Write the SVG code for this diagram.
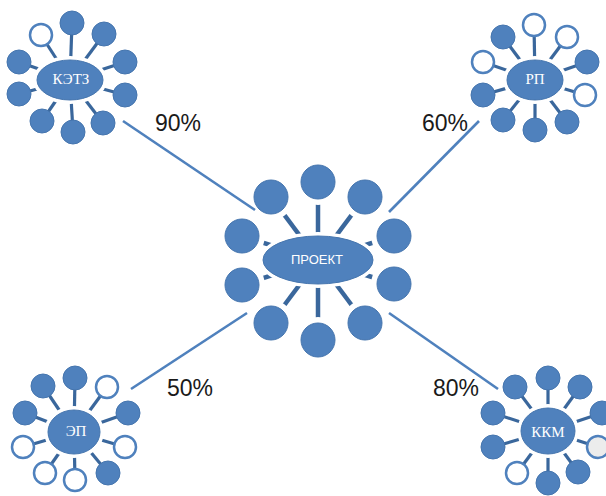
<svg xmlns="http://www.w3.org/2000/svg" width="606" height="496" viewBox="0 0 606 496">
<style>
.f{fill:#4f81bd;stroke:#4575ae;stroke-width:1}
.o{fill:#fff;stroke:#4f81bd;stroke-width:2.5}
.g{fill:#ececec;stroke:#4f81bd;stroke-width:2.5}
.h{fill:#fff}
.sp{stroke:#3a679c;stroke-width:3.2}
.spc{stroke:#3a679c;stroke-width:4.5}
.conn{stroke:#4f81bd;stroke-width:2.6;fill:none}
.lbl{font-family:"Liberation Serif",serif;font-size:15px;fill:#fff;text-anchor:middle}
.lblc{font-family:"Liberation Sans",sans-serif;font-size:13px;fill:#fff;text-anchor:middle}
.pct{font-family:"Liberation Sans",sans-serif;font-size:23px;fill:#1a1a1a}
</style>
<rect width="606" height="496" fill="#fff"/>

<g id="node-ketz">
<g class="sp">
<line x1="70" y1="80" x2="72" y2="23"/><line x1="70" y1="80" x2="41" y2="35"/><line x1="70" y1="80" x2="104" y2="34"/>
<line x1="70" y1="80" x2="125" y2="62"/><line x1="70" y1="80" x2="125" y2="95"/><line x1="70" y1="80" x2="103" y2="123"/>
<line x1="70" y1="80" x2="73" y2="132"/><line x1="70" y1="80" x2="42" y2="121"/><line x1="70" y1="80" x2="19" y2="94"/>
<line x1="70" y1="80" x2="19" y2="62"/>
</g>
<ellipse class="h" cx="70" cy="80" rx="37" ry="24"/>
<circle class="f" cx="72" cy="23" r="12"/><circle class="o" cx="41" cy="35" r="11"/><circle class="f" cx="104" cy="34" r="12"/>
<circle class="f" cx="125" cy="62" r="12"/><circle class="f" cx="125" cy="95" r="12"/><circle class="f" cx="103" cy="123" r="12"/>
<circle class="f" cx="73" cy="132" r="12"/><circle class="f" cx="42" cy="121" r="12"/><circle class="f" cx="19" cy="94" r="12"/>
<circle class="f" cx="19" cy="62" r="12"/>
<ellipse class="f" cx="70" cy="80" rx="33" ry="20"/>
<text class="lbl" x="71" y="84">КЭТЗ</text>
</g>

<g id="node-rp">
<g class="sp">
<line x1="535" y1="80" x2="534" y2="25"/><line x1="535" y1="80" x2="503" y2="37"/><line x1="535" y1="80" x2="567" y2="37"/>
<line x1="535" y1="80" x2="587" y2="62"/><line x1="535" y1="80" x2="585" y2="95"/><line x1="535" y1="80" x2="567" y2="122"/>
<line x1="535" y1="80" x2="535" y2="130"/><line x1="535" y1="80" x2="503" y2="120"/><line x1="535" y1="80" x2="483" y2="95"/>
<line x1="535" y1="80" x2="483" y2="62"/>
</g>
<ellipse class="h" cx="535" cy="80" rx="32" ry="24"/>
<circle class="o" cx="534" cy="25" r="11"/><circle class="f" cx="503" cy="37" r="12"/><circle class="o" cx="567" cy="37" r="11"/>
<circle class="f" cx="587" cy="62" r="12"/><circle class="o" cx="585" cy="95" r="11"/><circle class="f" cx="567" cy="122" r="12"/>
<circle class="f" cx="535" cy="130" r="12"/><circle class="f" cx="503" cy="120" r="12"/><circle class="f" cx="483" cy="95" r="12"/>
<circle class="o" cx="483" cy="62" r="11"/>
<ellipse class="f" cx="535" cy="80" rx="28" ry="20"/>
<text class="lbl" x="535" y="84">РП</text>
</g>

<g id="node-ep">
<g class="sp">
<line x1="74" y1="432" x2="75" y2="378"/><line x1="74" y1="432" x2="43" y2="386"/><line x1="74" y1="432" x2="107" y2="387"/>
<line x1="74" y1="432" x2="128" y2="413"/><line x1="74" y1="432" x2="125" y2="447"/><line x1="74" y1="432" x2="108" y2="473"/>
<line x1="74" y1="432" x2="75" y2="480"/><line x1="74" y1="432" x2="45" y2="473"/><line x1="74" y1="432" x2="23" y2="447"/>
<line x1="74" y1="432" x2="25" y2="413"/>
</g>
<ellipse class="h" cx="74" cy="432" rx="30" ry="26"/>
<circle class="f" cx="75" cy="378" r="12"/><circle class="f" cx="43" cy="386" r="12"/><circle class="o" cx="107" cy="387" r="11"/>
<circle class="f" cx="128" cy="413" r="12"/><circle class="o" cx="125" cy="447" r="11"/><circle class="f" cx="108" cy="473" r="12"/>
<circle class="o" cx="75" cy="480" r="11"/><circle class="o" cx="45" cy="473" r="11"/><circle class="o" cx="23" cy="447" r="11"/>
<circle class="f" cx="25" cy="413" r="12"/>
<ellipse class="f" cx="74" cy="432" rx="26" ry="22"/>
<text class="lbl" x="76" y="436">ЭП</text>
</g>

<g id="node-kkm">
<g class="sp">
<line x1="548" y1="431" x2="548" y2="378"/><line x1="548" y1="431" x2="515" y2="387"/><line x1="548" y1="431" x2="580" y2="387"/>
<line x1="548" y1="431" x2="602" y2="413"/><line x1="548" y1="431" x2="598" y2="447"/><line x1="548" y1="431" x2="578" y2="472"/>
<line x1="548" y1="431" x2="548" y2="483"/><line x1="548" y1="431" x2="517" y2="473"/><line x1="548" y1="431" x2="493" y2="447"/>
<line x1="548" y1="431" x2="493" y2="413"/>
</g>
<ellipse class="h" cx="548" cy="431" rx="31" ry="27"/>
<circle class="f" cx="548" cy="378" r="12"/><circle class="f" cx="515" cy="387" r="12"/><circle class="f" cx="580" cy="387" r="12"/>
<circle class="f" cx="602" cy="413" r="12"/><circle class="g" cx="598" cy="447" r="11"/><circle class="f" cx="578" cy="472" r="12"/>
<circle class="f" cx="548" cy="483" r="12"/><circle class="o" cx="517" cy="473" r="11"/><circle class="f" cx="493" cy="447" r="12"/>
<circle class="f" cx="493" cy="413" r="12"/>
<ellipse class="f" cx="548" cy="431" rx="27" ry="23"/>
<text class="lbl" x="548" y="437">ККМ</text>
</g>

<g id="node-project">
<g class="spc">
<line x1="318" y1="260" x2="318" y2="182"/><line x1="318" y1="260" x2="271" y2="197"/><line x1="318" y1="260" x2="365" y2="197"/>
<line x1="318" y1="260" x2="394" y2="236"/><line x1="318" y1="260" x2="394" y2="284"/><line x1="318" y1="260" x2="365" y2="323"/>
<line x1="318" y1="260" x2="318" y2="340"/><line x1="318" y1="260" x2="271" y2="323"/><line x1="318" y1="260" x2="242" y2="285"/>
<line x1="318" y1="260" x2="242" y2="236"/>
</g>
<ellipse class="h" cx="318" cy="260" rx="59" ry="28"/>
<g class="h">
<circle cx="318" cy="182" r="23"/><circle cx="271" cy="197" r="23"/><circle cx="365" cy="197" r="23"/>
<circle cx="394" cy="236" r="23"/><circle cx="394" cy="284" r="23"/><circle cx="365" cy="323" r="23"/>
<circle cx="318" cy="340" r="23"/><circle cx="271" cy="323" r="23"/><circle cx="242" cy="285" r="23"/>
<circle cx="242" cy="236" r="23"/>
</g>
<circle class="f" cx="318" cy="182" r="17"/><circle class="f" cx="271" cy="197" r="17"/><circle class="f" cx="365" cy="197" r="17"/>
<circle class="f" cx="394" cy="236" r="17"/><circle class="f" cx="394" cy="284" r="17"/><circle class="f" cx="365" cy="323" r="17"/>
<circle class="f" cx="318" cy="340" r="17"/><circle class="f" cx="271" cy="323" r="17"/><circle class="f" cx="242" cy="285" r="17"/>
<circle class="f" cx="242" cy="236" r="17"/>
<ellipse class="f" cx="318" cy="260" rx="55" ry="24"/>
<text class="lblc" x="317" y="264">ПРОЕКТ</text>
</g>

<g id="connectors" class="conn">
<line x1="123" y1="121" x2="255" y2="210"/>
<line x1="479" y1="121" x2="389" y2="212"/>
<line x1="247" y1="313" x2="131" y2="389"/>
<line x1="389" y1="313" x2="498" y2="389"/>
</g>

<g id="labels">
<text class="pct" x="155" y="131">90%</text>
<text class="pct" x="422" y="131">60%</text>
<text class="pct" x="167" y="396">50%</text>
<text class="pct" x="433" y="396">80%</text>
</g>
</svg>
